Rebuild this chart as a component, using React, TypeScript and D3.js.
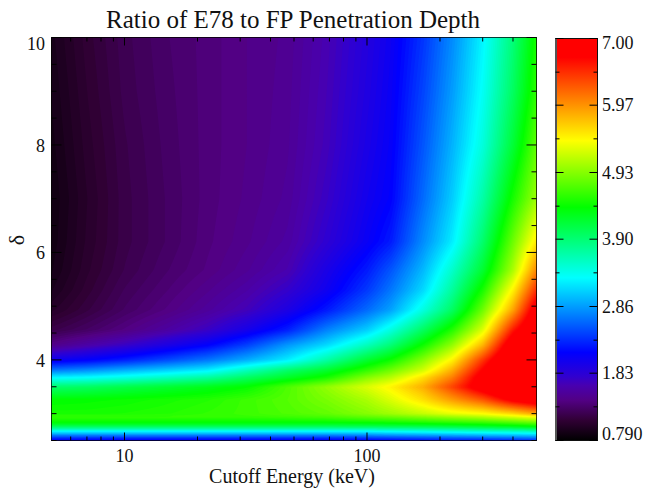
import React, { useMemo } from "react";
import * as d3 from "d3";

const energies = [5, 7, 10, 15, 22, 32, 47, 68, 100, 125, 170, 225, 300, 400, 500];
const deltas = [2.5, 2.56, 2.67, 2.76, 2.83, 2.94, 3.0, 3.26, 3.5, 3.67, 3.81, 4.0, 4.28, 4.56, 4.93, 5.3, 5.67, 6.2, 7, 8, 9, 10];

const d250 = [2.1, 2.1, 2.1, 2.1, 2.1, 2.1, 2.1, 2.1, 2.12, 2.15, 2.2, 2.25, 2.25, 2.3, 2.35];
const d256 = [2.45, 2.45, 2.45, 2.45, 2.45, 2.45, 2.45, 2.45, 2.5, 2.55, 2.6, 2.65, 2.7, 2.75, 2.8];
const d267 = [3.3, 3.3, 3.3, 3.3, 3.3, 3.3, 3.3, 3.3, 3.3, 3.35, 3.4, 3.45, 3.5, 3.55, 3.6];
const d276 = [4.02, 4.02, 4.02, 4.02, 4.02, 4.02, 4.02, 4.02, 4.05, 4.07, 4.1, 4.15, 4.22, 4.3, 4.4];
const d283 = [4.39, 4.39, 4.39, 4.39, 4.39, 4.39, 4.39, 4.39, 4.42, 4.45, 4.5, 4.55, 4.6, 4.7, 4.8];
const d294 = [4.62, 4.62, 4.62, 4.62, 4.62, 4.62, 4.65, 4.7, 4.8, 4.85, 4.95, 5.05, 5.15, 5.3, 5.42];
const d300 = [4.5, 4.5, 4.52, 4.55, 4.6, 4.65, 4.72, 4.8, 4.95, 5.05, 5.2, 5.35, 5.45, 5.65, 5.9];
const d326 = [4.4, 4.42, 4.45, 4.5, 4.55, 4.65, 4.75, 4.9, 5.1, 5.3, 5.6, 5.95, 6.3, 6.85, 7.1];
const d350 = [3.95, 4.0, 4.1, 4.2, 4.3, 4.42, 4.72, 5.0, 5.3, 5.5, 5.85, 6.4, 7.0, 7.5, 7.7];
const d367 = [3.3, 3.35, 3.45, 3.6, 3.75, 4.0, 4.25, 4.5, 4.95, 5.15, 5.6, 6.1, 6.95, 7.6, 7.8];
const d381 = [2.7, 2.8, 2.95, 3.1, 3.25, 3.6, 3.95, 4.2, 4.6, 4.85, 5.25, 5.85, 6.75, 7.6, 7.8];
const d400 = [2.05, 2.15, 2.3, 2.5, 2.7, 2.95, 3.25, 3.7, 4.2, 4.45, 4.95, 5.5, 6.45, 7.4, 7.7];
const d428 = [1.45, 1.6, 1.75, 1.95, 2.15, 2.45, 2.85, 3.15, 3.6, 3.9, 4.45, 5.0, 5.8, 7.1, 7.5];
const d456 = [1.2, 1.3, 1.42, 1.58, 1.75, 2.0, 2.3, 2.75, 3.1, 3.45, 4.0, 4.55, 5.3, 6.6, 7.3];
const d493 = [1.05, 1.17, 1.3, 1.42, 1.55, 1.7, 1.95, 2.27, 2.65, 2.9, 3.45, 4.0, 4.85, 5.9, 7.0];
const d530 = [0.98, 1.12, 1.26, 1.37, 1.48, 1.6, 1.78, 2.05, 2.42, 2.7, 3.15, 3.75, 4.5, 5.5, 6.5];
const d567 = [0.94, 1.09, 1.22, 1.33, 1.42, 1.52, 1.65, 1.97, 2.28, 2.55, 3.0, 3.55, 4.2, 5.1, 6.05];
const d620 = [0.92, 1.07, 1.2, 1.3, 1.4, 1.48, 1.58, 1.82, 2.1, 2.28, 2.8, 3.25, 3.95, 4.85, 5.55];
const d700 = [0.91, 1.06, 1.2, 1.3, 1.39, 1.46, 1.54, 1.75, 2.03, 2.16, 2.65, 3.1, 3.7, 4.5, 5.05];
const d800 = [0.93, 1.08, 1.21, 1.31, 1.39, 1.45, 1.52, 1.7, 1.97, 2.12, 2.55, 2.98, 3.47, 4.18, 4.8];
const d900 = [0.95, 1.1, 1.23, 1.32, 1.39, 1.45, 1.51, 1.68, 1.93, 2.09, 2.47, 2.88, 3.36, 4.0, 4.6];
const d1000 = [0.97, 1.12, 1.24, 1.33, 1.39, 1.45, 1.5, 1.66, 1.9, 2.06, 2.4, 2.8, 3.28, 3.9, 4.5];
const ratioRows = [d250, d256, d267, d276, d283, d294, d300, d326, d350, d367, d381, d400, d428, d456, d493, d530, d567, d620, d700, d800, d900, d1000];

const colorPositions = [0, 0.05, 0.1, 0.137, 0.16, 0.219, 0.405, 0.58, 0.746, 0.953, 1];
const colorValues = ["#000000", "#300034", "#520084", "#4800b0", "#3000d0", "#0000ff", "#00ffff", "#00ff00", "#ffff00", "#ff0000", "#ff0000"];

const xMajor = [10, 100];
const xMinor = [6, 7, 8, 9, 20, 30, 40, 50, 60, 70, 80, 90, 200, 300, 400];
const yMajor = [4, 6, 8, 10];
const yMinor = [2.5, 3, 3.5, 4.5, 5, 5.5, 6.5, 7, 7.5, 8.5, 9, 9.5];
const barLabels = ["7.00", "5.97", "4.93", "3.90", "2.86", "1.83", "0.790"];
const barMajor = [7, 5.97, 4.93, 3.9, 2.86, 1.83, 0.79];
const barMinor = [6.48, 5.45, 4.41, 3.38, 2.34, 1.31];

const vMin = 0.79;
const vMax = 7;
const serif = "'Liberation Serif', 'Times New Roman', serif";

const x = d3.scaleLog().domain([5, 500]).range([51.5, 536.5]);
const y = d3.scaleLinear().domain([2.5, 10]).range([440.5, 37.5]);
const barY = d3.scaleLinear().domain([vMin, vMax]).range([440.5, 38.5]);
const color = d3
  .scaleLinear<string>()
  .domain(colorPositions.map((t) => vMin + t * (vMax - vMin)))
  .range(colorValues)
  .interpolate(d3.interpolateRgb)
  .clamp(true);

function ratioAt(logE: number, delta: number) {
  const logs = energies.map(Math.log10);
  const ci = Math.min(Math.max(d3.bisectRight(logs, logE) - 1, 0), energies.length - 2);
  const ri = Math.min(Math.max(d3.bisectRight(deltas, delta) - 1, 0), deltas.length - 2);
  const u = (logE - logs[ci]) / (logs[ci + 1] - logs[ci]);
  const v = (delta - deltas[ri]) / (deltas[ri + 1] - deltas[ri]);
  const lo = ratioRows[ri][ci] * (1 - u) + ratioRows[ri][ci + 1] * u;
  const hi = ratioRows[ri + 1][ci] * (1 - u) + ratioRows[ri + 1][ci + 1] * u;
  return lo * (1 - v) + hi * v;
}

function useField() {
  return useMemo(() => {
    const step = 2;
    const [x0, x1] = x.range();
    const [y1, y0] = y.range();
    const nx = Math.ceil((x1 - x0) / step) + 1;
    const ny = Math.ceil((y1 - y0) / step) + 1;
    const grid = new Float64Array(nx * ny);
    for (let j = 0; j < ny; j++) {
      const delta = y.invert(y0 + j * step);
      for (let i = 0; i < nx; i++) {
        const logE = Math.log10(x.invert(x0 + i * step));
        grid[j * nx + i] = ratioAt(logE, delta);
      }
    }
    const thresholds = d3.range(1, 160).map((k) => vMin + (k / 160) * (vMax - vMin));
    const shapes = d3.contours().size([nx, ny]).thresholds(thresholds)(grid as any);
    const path = d3.geoPath();
    return {
      step,
      x0,
      y0,
      shapes: shapes.map((s) => ({ value: s.value, d: path(s as any) || "" })),
    };
  }, []);
}

export default function App() {
  const field = useField();
  const [px0, px1] = x.range();
  const [py1, py0] = y.range();
  const gradientStops = colorPositions.map((t, i) => ({ off: t, c: colorValues[i] }));
  const bx0 = 555.5;
  const bx1 = 597.5;
  return (
    <svg
      width={649}
      height={489}
      style={{ position: "absolute", left: 0, top: 0, background: "#fff", fontFamily: serif }}
    >
      <defs>
        <clipPath id="frame">
          <rect x={px0} y={py0} width={px1 - px0} height={py1 - py0} />
        </clipPath>
        <linearGradient id="bar" x1="0" y1="1" x2="0" y2="0">
          {gradientStops.map((s, i) => (
            <stop key={i} offset={s.off} stopColor={s.c} />
          ))}
        </linearGradient>
      </defs>

      <text x={293} y={28} textAnchor="middle" fontSize={25} fill="#111">
        Ratio of E78 to FP Penetration Depth
      </text>

      <g clipPath="url(#frame)">
        <rect x={px0} y={py0} width={px1 - px0} height={py1 - py0} fill={color(vMin)} />
        <g
          transform={`translate(${field.x0 - 0.5 * field.step},${field.y0 - 0.5 * field.step}) scale(${field.step})`}
        >
          {field.shapes.map((s, i) => (
            <path key={i} d={s.d} fill={color(s.value)} />
          ))}
        </g>
      </g>

      <rect x={px0} y={py0} width={px1 - px0} height={py1 - py0} fill="none" stroke="#000" strokeWidth={1} opacity={0.75} />

      {xMajor.map((v) => (
        <g key={v} stroke="#000">
          <line x1={x(v)} x2={x(v)} y1={py1} y2={py1 - 8} />
          <line x1={x(v)} x2={x(v)} y1={py0} y2={py0 + 8} />
        </g>
      ))}
      {xMinor.map((v) => (
        <g key={v} stroke="#000">
          <line x1={x(v)} x2={x(v)} y1={py1} y2={py1 - 4} />
          <line x1={x(v)} x2={x(v)} y1={py0} y2={py0 + 4} />
        </g>
      ))}
      {yMajor.map((v) => (
        <g key={v} stroke="#000">
          <line x1={px0} x2={px0 + 10} y1={y(v)} y2={y(v)} />
          <line x1={px1} x2={px1 - 10} y1={y(v)} y2={y(v)} />
        </g>
      ))}
      {yMinor.map((v) => (
        <g key={v} stroke="#000">
          <line x1={px0} x2={px0 + 5} y1={y(v)} y2={y(v)} />
          <line x1={px1} x2={px1 - 5} y1={y(v)} y2={y(v)} />
        </g>
      ))}

      {xMajor.map((v) => (
        <text key={v} x={x(v)} y={462} textAnchor="middle" fontSize={18} fill="#111">
          {v}
        </text>
      ))}
      {yMajor.map((v) => (
        <text key={v} x={45} y={v === 10 ? 50 : y(v) + 7} textAnchor="end" fontSize={18} fill="#111">
          {v}
        </text>
      ))}
      <text x={292} y={483} textAnchor="middle" fontSize={20} fill="#111">
        Cutoff Energy (keV)
      </text>
      <text transform="translate(24,240) rotate(-90)" textAnchor="middle" fontSize={22} fill="#111">
        δ
      </text>

      <rect x={bx0} y={barY(vMax)} width={bx1 - bx0} height={barY(vMin) - barY(vMax)} fill="url(#bar)" />
      <rect x={bx0} y={barY(vMax)} width={bx1 - bx0} height={barY(vMin) - barY(vMax)} fill="none" stroke="#111" />
      <line x1={bx0 + 0.5} x2={bx0 + 0.5} y1={barY(vMax)} y2={barY(vMin)} stroke="#555" strokeWidth={2} />
      {barMajor.map((v) => (
        <g key={v} stroke="#000">
          <line x1={bx0} x2={bx0 + 8} y1={barY(v)} y2={barY(v)} />
          <line x1={bx1} x2={bx1 - 8} y1={barY(v)} y2={barY(v)} />
        </g>
      ))}
      {barMinor.map((v) => (
        <g key={v} stroke="#000">
          <line x1={bx0} x2={bx0 + 4} y1={barY(v)} y2={barY(v)} />
          <line x1={bx1} x2={bx1 - 4} y1={barY(v)} y2={barY(v)} />
        </g>
      ))}
      {barLabels.map((label, i) => (
        <text
          key={label}
          x={602}
          y={i === 0 ? 49 : i === barLabels.length - 1 ? 440 : barY(barMajor[i]) + 6}
          fontSize={18}
          fill="#111"
        >
          {label}
        </text>
      ))}
    </svg>
  );
}
